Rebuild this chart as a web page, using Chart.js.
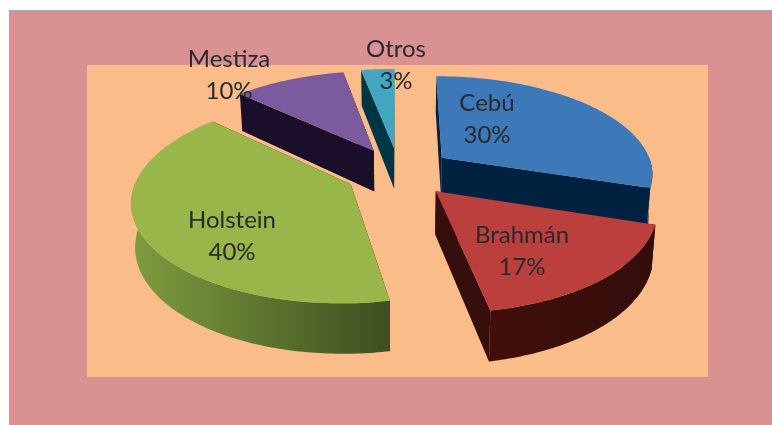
<!DOCTYPE html>
<html>
<head>
<meta charset="utf-8">
<script src="https://cdn.jsdelivr.net/npm/chart.js@4"></script>
<style>
  html, body { margin: 0; background: #fff; overflow: hidden; }
  #outer { position: absolute; left: 9px; top: 10px; width: 763px; height: 415px; background: #d99191; border-left: 1px solid #aaa; border-top: 1px solid #aaa; box-sizing: border-box; }
  #plot { position: absolute; left: 87px; top: 65px; width: 621px; height: 312px; background: #fabc88; }
  #chart-1 { position: absolute; left: 0; top: 0; }
</style>
</head>
<body>
<div id="outer"></div>
<div id="plot"></div>
<canvas id="chart-1" width="772" height="425"></canvas>
<script>
const breeds = ['Cebú', 'Brahmán', 'Holstein', 'Mestiza', 'Otros'];
const shares = [30, 17, 40, 10, 3];
const topColors = ['#3d78b8', '#bb3f3c', '#98b64a', '#7c5a9e', '#40a6c2'];
const wallColors = ['#00213f', '#360e0c', '#3a0c0a', '#1b0e2b', '#003643'];
const rimColors = [['#00213f', '#00213f'], ['#420f0b', '#330d0b'], ['#7f9c3f', '#3c4f20'], ['#1b0e2b', '#1b0e2b'], ['#003643', '#003643']];

// label centres, first line, in canvas pixels
const labelX = [487, 522, 232, 229, 396];
const labelY = [103, 235, 220, 59, 49];

// camera used to fake the 3D look
const tilt = 0.46;
const perspective = 0.0007;
const depth = 42;
const bottomShrink = 0.985;

function project(cx, cy, u, v, low) {
  let k = 1 / (1 - perspective * v);
  let x = cx + u * k;
  let y = cy + tilt * v * k;
  if (low) {
    x = cx + (x - cx) * bottomShrink;
    y += depth * k;
  }
  return [x, y];
}

function fillPath(ctx, points, fill) {
  ctx.beginPath();
  points.forEach((p, i) => i ? ctx.lineTo(p[0], p[1]) : ctx.moveTo(p[0], p[1]));
  ctx.closePath();
  ctx.fillStyle = fill;
  ctx.fill();
}

function drawSlice(ctx, arc, index) {
  let props = arc.getProps(['x', 'y', 'startAngle', 'endAngle', 'outerRadius'], true);
  let mid = (props.startAngle + props.endAngle) / 2;
  let explode = arc.options.offset / 4;
  let ox = Math.cos(mid) * explode;
  let oy = Math.sin(mid) * explode;

  let rim = [];
  let steps = Math.ceil((props.endAngle - props.startAngle) * 60);
  for (let i = 0; i <= steps; i++) {
    let a = props.startAngle + (props.endAngle - props.startAngle) * i / steps;
    rim.push([ox + Math.cos(a) * props.outerRadius, oy + Math.sin(a) * props.outerRadius, a]);
  }

  let high = (p) => project(props.x, props.y, p[0], p[1], false);
  let low = (p) => project(props.x, props.y, p[0], p[1], true);
  let apex = [ox, oy];
  let first = rim[0];
  let last = rim[rim.length - 1];

  // straight walls
  fillPath(ctx, [high(apex), high(first), low(first), low(apex)], wallColors[index]);
  fillPath(ctx, [high(apex), high(last), low(last), low(apex)], wallColors[index]);

  // curved wall, only the part that faces the viewer
  let front = rim.filter(p => Math.sin(p[2]) > -0.02);
  if (front.length > 1) {
    let left = Math.min(...front.map(p => high(p)[0]));
    let right = Math.max(...front.map(p => high(p)[0]));
    let shade = ctx.createLinearGradient(left, 0, right, 0);
    shade.addColorStop(0, rimColors[index][0]);
    shade.addColorStop(1, rimColors[index][1]);
    let outline = front.map(high).concat(front.slice().reverse().map(low));
    fillPath(ctx, outline, shade);
  }

  // top surface
  fillPath(ctx, [high(apex)].concat(rim.map(high)), topColors[index]);
}

const slices3d = {
  id: 'slices3d',
  beforeDatasetsDraw(chart) {
    let ctx = chart.ctx;
    let arcs = chart.getDatasetMeta(0).data;
    let order = arcs.map((arc, i) => i).sort((a, b) => {
      let midA = (arcs[a].startAngle + arcs[a].endAngle) / 2;
      let midB = (arcs[b].startAngle + arcs[b].endAngle) / 2;
      return Math.sin(midA) - Math.sin(midB);
    });
    order.forEach(i => drawSlice(ctx, arcs[i], i));

    // labels
    ctx.font = '24px Lato';
    ctx.fillStyle = '#2a2a2e';
    ctx.textAlign = 'center';
    ctx.textBaseline = 'middle';
    breeds.forEach((name, i) => {
      ctx.fillText(name, labelX[i], labelY[i]);
      ctx.fillText(shares[i] + '%', labelX[i], labelY[i] + 32);
    });
    return false;
  }
};

const myChart = new Chart('chart-1', {
  type: 'pie',
  data: {
    labels: breeds,
    datasets: [{
      data: shares,
      backgroundColor: topColors,
      borderWidth: 0,
      offset: 216
    }]
  },
  options: {
    responsive: false,
    animation: false,
    radius: 212,
    layout: {
      padding: {left: 26, bottom: 81}
    },
    plugins: {
      legend: {display: false},
      tooltip: {enabled: false}
    }
  },
  plugins: [slices3d]
});
</script>
</body>
</html>
